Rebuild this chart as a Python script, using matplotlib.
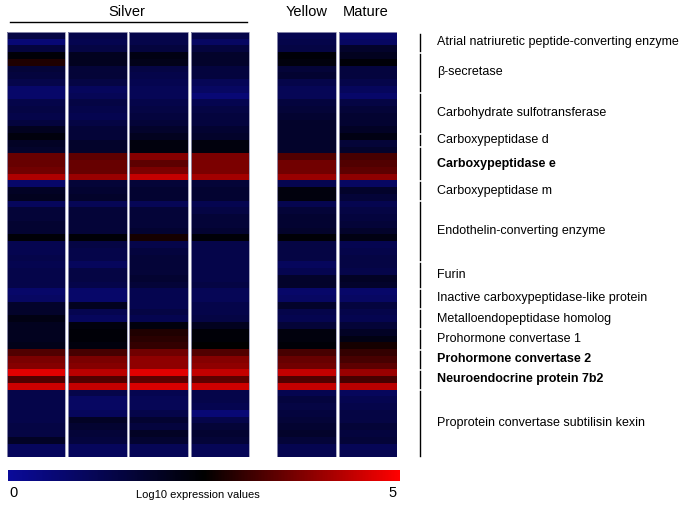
import numpy as np
import matplotlib
matplotlib.use("Agg")
import matplotlib.pyplot as plt
from matplotlib.colors import LinearSegmentedColormap, Normalize
from matplotlib.cm import ScalarMappable

plt.rcParams['font.family'] = ['Liberation Sans', 'DejaVu Sans']

# gene groups (top to bottom) and how many rows each one covers
groups = ["Atrial natriuretic peptide-converting enzyme", "β-secretase",
          "Carbohydrate sulfotransferase", "Carboxypeptidase d",
          "Carboxypeptidase e", "Carboxypeptidase m", "Endothelin-converting enzyme",
          "Furin", "Inactive carboxypeptidase-like protein", "Metalloendopeptidase homolog",
          "Prohormone convertase 1", "Prohormone convertase 2",
          "Neuroendocrine protein 7b2", "Proprotein convertase subtilisin kexin"]
group_rows = [3, 6, 6, 2, 5, 3, 9, 4, 3, 3, 3, 3, 3, 10]
bold_groups = ["Carboxypeptidase e", "Prohormone convertase 2", "Neuroendocrine protein 7b2"]

# log10 expression, one value per row
silver1 = [1.4, 0.6, 1.5, 2.4, 2.8, 1.6, 1.5, 1.3, 0.8, 0.8, 1.3, 1.4, 1.3, 1.5, 2.0, 2.3,
           1.9, 1.8, 3.5, 3.5, 3.6, 4.2, 0.8, 1.9, 2.0, 1.0, 1.6, 1.6, 1.7, 1.7, 2.4, 1.2,
           1.2, 1.3, 1.2, 1.3, 1.3, 1.3, 0.8, 0.9, 1.8, 1.8, 2.2, 2.0, 2.0, 2.0, 2.1, 3.3,
           3.7, 3.8, 4.7, 3.3, 4.5, 1.3, 1.3, 1.3, 1.3, 1.3, 1.4, 1.4, 1.9, 1.0, 1.0]
silver2 = [1.3, 1.2, 1.4, 2.0, 2.0, 1.6, 1.6, 1.4, 1.0, 1.1, 1.4, 1.3, 1.2, 1.4, 1.6, 1.6,
           1.8, 1.8, 3.4, 3.5, 3.5, 4.0, 1.6, 1.7, 1.8, 1.1, 1.6, 1.6, 1.6, 1.6, 2.4, 1.4,
           1.3, 1.3, 1.0, 1.4, 1.4, 1.3, 0.8, 0.8, 2.0, 1.2, 1.0, 2.3, 2.4, 2.4, 2.3, 3.2,
           3.7, 3.8, 4.3, 3.3, 4.4, 1.3, 0.9, 0.9, 1.0, 1.9, 1.7, 1.6, 1.5, 1.0, 1.0]
silver3 = [1.3, 1.3, 1.5, 2.2, 2.1, 1.4, 1.3, 1.2, 1.1, 1.1, 1.3, 1.4, 1.5, 1.6, 1.8, 2.0,
           2.3, 2.3, 3.8, 3.4, 3.7, 4.4, 1.6, 1.7, 1.7, 1.1, 1.6, 1.6, 1.6, 1.7, 2.7, 1.3,
           1.5, 1.6, 1.6, 1.6, 1.7, 1.6, 1.2, 1.2, 1.2, 1.4, 1.2, 2.3, 2.8, 2.9, 3.0, 3.6,
           3.9, 3.9, 4.7, 3.4, 4.6, 1.2, 1.1, 1.1, 1.3, 1.7, 1.5, 1.9, 1.7, 1.1, 1.1]
silver4 = [1.3, 0.9, 1.5, 1.8, 1.8, 1.5, 1.5, 1.1, 0.9, 0.6, 1.2, 1.4, 1.5, 1.5, 1.7, 1.8,
           2.3, 2.3, 3.7, 3.7, 3.7, 4.1, 1.6, 1.7, 1.7, 1.2, 1.4, 1.6, 1.6, 1.7, 2.4, 1.3,
           1.3, 1.3, 1.3, 1.3, 1.3, 1.4, 1.1, 1.1, 1.3, 1.3, 1.4, 2.0, 2.4, 2.4, 2.5, 3.3,
           3.8, 3.9, 4.4, 3.4, 4.5, 1.3, 1.3, 1.2, 0.6, 1.3, 1.6, 1.7, 1.6, 1.1, 1.1]
yellow = [1.2, 1.3, 1.4, 2.4, 2.3, 1.6, 1.7, 1.3, 1.1, 1.1, 1.5, 1.6, 1.7, 1.8, 1.8, 1.8,
          1.8, 1.8, 3.3, 3.6, 3.6, 4.0, 1.2, 2.3, 2.3, 1.2, 1.6, 1.7, 1.7, 1.8, 2.4, 1.4,
          1.4, 1.4, 1.0, 1.2, 1.8, 1.8, 0.8, 0.9, 1.8, 1.3, 1.2, 1.6, 2.3, 2.3, 2.4, 3.2,
          3.5, 3.6, 4.4, 3.3, 4.4, 1.2, 1.5, 1.4, 1.5, 1.6, 1.7, 1.8, 1.6, 1.2, 1.2]
mature = [0.8, 0.9, 1.8, 2.0, 2.4, 1.5, 1.5, 1.3, 1.0, 0.8, 1.4, 1.6, 1.7, 1.7, 1.9, 2.2,
          1.6, 1.8, 3.2, 3.3, 3.4, 3.9, 0.9, 1.8, 1.6, 1.2, 1.4, 1.5, 1.6, 1.8, 2.2, 1.2,
          1.3, 1.4, 1.4, 1.3, 1.9, 1.8, 0.8, 0.9, 1.5, 1.3, 1.2, 1.6, 1.9, 2.2, 2.7, 3.0,
          3.2, 3.4, 4.0, 3.2, 4.3, 1.0, 1.2, 1.3, 1.4, 1.4, 1.6, 1.5, 1.6, 1.1, 1.2]

columns = [silver1, silver2, silver3, silver4, yellow, mature]
col_left = [0, 1, 2, 3, 4.42, 5.42]
col_w = 0.955

cmap = LinearSegmentedColormap.from_list("bkr", [(0.04, 0.04, 0.6), (0, 0, 0), (1, 0, 0)])
norm = Normalize(0, 5)

fig = plt.figure(figsize=(6.83, 5.08), dpi=100)
W, H = 683, 508
top, bot = 32, 457
ax = fig.add_axes([7 / W, 1 - bot / H, 390 / W, (bot - top) / H])

nrows = len(silver1)
for x0, vals in zip(col_left, columns):
    z = np.array(vals).reshape(-1, 1)
    ax.pcolormesh([x0, x0 + col_w], np.arange(nrows + 1), z, cmap=cmap, norm=norm)
    ax.add_patch(plt.Rectangle((x0, 0), col_w, nrows, fill=False, ec='#9a9ab8', lw=0.6))
ax.set_xlim(0, col_left[-1] + col_w)
ax.set_ylim(nrows, 0)
ax.axis('off')

# headers
fig.text(127 / W, 1 - 12 / H, "Silver", ha='center', va='center', fontsize=10.5)
fig.text(307 / W, 1 - 12 / H, "Yellow", ha='center', va='center', fontsize=10.5)
fig.text(366 / W, 1 - 12 / H, "Mature", ha='center', va='center', fontsize=10.5)
fig.add_artist(plt.Line2D([10 / W, 247 / W], [1 - 22 / H, 1 - 22 / H], color='black', lw=1))

# group brackets and labels (pixel rows counted from the top)
start = 0
for name, n in zip(groups, group_rows):
    y0 = top + (bot - top) * start / nrows
    y1 = top + (bot - top) * (start + n) / nrows
    fig.add_artist(plt.Line2D([420 / W, 420 / W], [1 - (y0 + 1.5) / H, 1 - (y1 - 1.5) / H],
                              color='black', lw=1))
    fig.text(437 / W, 1 - (y0 + y1) / 2 / H, name, ha='left', va='center', fontsize=9,
             fontweight='bold' if name in bold_groups else 'normal')
    start += n

# colour bar
cax = fig.add_axes([8 / W, 1 - 481 / H, 392 / W, 11 / H])
cb = fig.colorbar(ScalarMappable(norm=norm, cmap=cmap), cax=cax, orientation='horizontal')
cb.outline.set_visible(False)
cb.set_ticks([])
fig.text(13 / W, 1 - 493 / H, "0", ha='center', va='center', fontsize=10.5)
fig.text(393 / W, 1 - 493 / H, "5", ha='center', va='center', fontsize=10.5)
fig.text(198 / W, 1 - 495 / H, "Log10 expression values", ha='center', va='center', fontsize=8)

fig.savefig("out.png", dpi=100)
